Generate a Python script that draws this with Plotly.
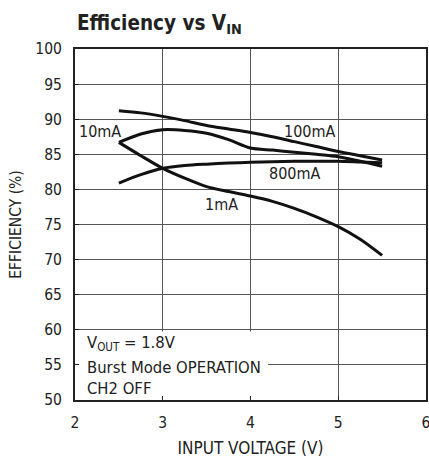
import plotly.graph_objects as go

vin = [2.5, 2.75, 3.0, 3.25, 3.5, 3.75, 4.0, 4.25, 4.5, 4.75, 5.0, 5.25, 5.5]
eff_100mA = [91.2, 90.9, 90.4, 89.8, 89.1, 88.6, 88.1, 87.5, 86.8, 86.1, 85.4, 84.8, 84.2]
eff_10mA = [86.7, 87.9, 88.5, 88.4, 88.0, 87.1, 85.9, 85.6, 85.3, 85.0, 84.65, 84.0, 83.3]
eff_800mA = [80.9, 82.1, 83.0, 83.4, 83.6, 83.75, 83.85, 83.95, 84.0, 84.0, 84.0, 83.9, 83.8]
eff_1mA = [86.7, 84.8, 83.0, 81.6, 80.4, 79.7, 79.05, 78.3, 77.3, 76.1, 74.7, 72.9, 70.6]

series = [("100mA", eff_100mA), ("10mA", eff_10mA), ("800mA", eff_800mA), ("1mA", eff_1mA)]
labels = [("10mA", 2.285, 88.2), ("100mA", 4.667, 88.3), ("800mA", 4.496, 82.2), ("1mA", 3.664, 77.8)]

notes = ["V<sub>OUT</sub> = 1.8V", "Burst Mode OPERATION", "CH2 OFF"]
note_y = [58.1, 54.7, 51.7]

FONT = "DejaVu Sans Condensed, Liberation Sans Narrow, Arial Narrow, sans-serif"

fig = go.Figure()
for name, vals in series:
    fig.add_trace(go.Scatter(x=vin, y=vals, mode="lines", name=name,
                             line=dict(color="#111111", width=3, shape="spline", smoothing=0.8),
                             showlegend=False))

for text, x, y in labels:
    fig.add_annotation(x=x, y=y, text=text, showarrow=False, xref="x", yref="y",
                       font=dict(family=FONT, size=16, color="#222"))

# white box behind the note text
fig.add_shape(type="rect", xref="x", yref="y", x0=2.0, x1=4.2, y0=50, y1=59.75,
              fillcolor="white", line=dict(width=0), layer="between")

for t, y in zip(notes, note_y):
    fig.add_annotation(x=2.114, y=y, text=t, showarrow=False, xanchor="left", yanchor="middle",
                       xref="x", yref="y", font=dict(family=FONT, size=16.5, color="#222"))

fig.add_annotation(x=0.0, y=1.072, xref="paper", yref="paper", xanchor="left", yanchor="middle",
                   text="<b>Efficiency vs V<sub>IN</sub></b>", showarrow=False,
                   font=dict(family=FONT, size=20.5, color="#222"))

fig.update_layout(
    width=429, height=458, template="none",
    margin=dict(l=75, r=3, t=49, b=58),
    paper_bgcolor="white", plot_bgcolor="white",
    font=dict(family=FONT, size=16, color="#222"),
    showlegend=False,
)
fig.update_xaxes(range=[2, 6], dtick=1, tick0=2, showgrid=True, gridcolor="#555", gridwidth=1.2,
                 showline=True, mirror=True, linecolor="#222", linewidth=2,
                 ticks="inside", ticklen=4, tickcolor="#222", automargin=False, zeroline=False,
                 ticklabeloverflow="allow", ticklabelstandoff=7,
                 title=dict(text="INPUT VOLTAGE (V)", font=dict(size=17), standoff=12),
                 tickfont=dict(size=15.5))
fig.update_yaxes(range=[50, 100], dtick=5, tick0=50, showgrid=True, gridcolor="#555", gridwidth=1.2,
                 showline=True, mirror=True, linecolor="#222", linewidth=2,
                 ticks="inside", ticklen=4, tickcolor="#222", automargin=False, zeroline=False,
                 ticklabelstandoff=8,
                 title=dict(text="EFFICIENCY (%)", font=dict(size=15.5), standoff=10),
                 tickfont=dict(size=15.5))

fig.write_html("out.html", config={"displayModeBar": False},
               post_script="document.body.style.margin='0';document.body.style.overflow='hidden';")
